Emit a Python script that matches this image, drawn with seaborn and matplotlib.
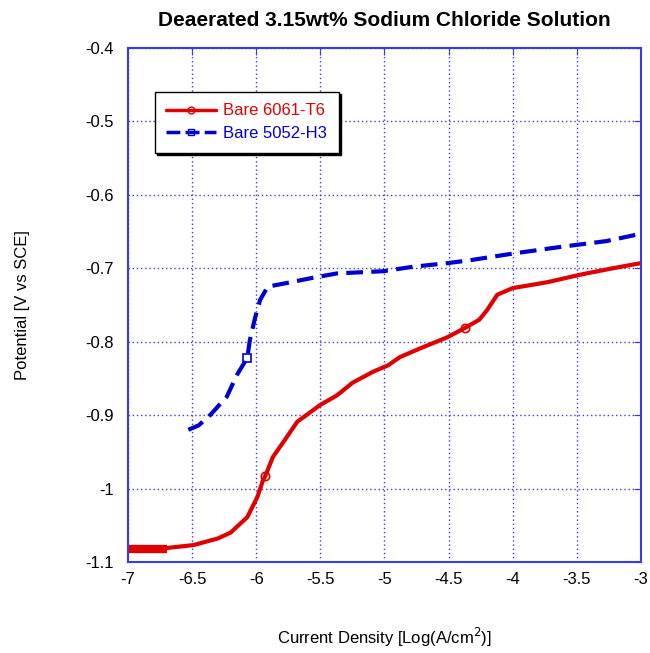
import numpy as np
import pandas as pd
import matplotlib
matplotlib.use("Agg")
import matplotlib.pyplot as plt
import seaborn as sns
from matplotlib.lines import Line2D
from matplotlib.ticker import FuncFormatter


# Data
red_x = [-6.70, -6.49, -6.30, -6.20, -6.07, -5.99, -5.95, -5.93, -5.87, -5.79,
         -5.68, -5.50, -5.37, -5.25, -5.09, -4.97, -4.88, -4.72, -4.51, -4.37,
         -4.26, -4.20, -4.12, -4.00, -3.73, -3.48, -3.22, -3.00]
red_y = [-1.081, -1.077, -1.068, -1.060, -1.039, -1.011, -0.990, -0.983, -0.957, -0.937,
         -0.909, -0.886, -0.873, -0.856, -0.841, -0.832, -0.821, -0.809, -0.794, -0.781,
         -0.770, -0.757, -0.736, -0.727, -0.719, -0.709, -0.700, -0.693]
red_flat_x = [-7.00, -6.70]
red_flat_y = [-1.083, -1.083]
red_marks = [7, 19]

blue_x = [-6.53, -6.45, -6.36, -6.23, -6.15, -6.07, -6.05, -6.01, -5.97, -5.91,
          -5.76, -5.56, -5.37, -5.01, -4.78, -4.51, -4.33, -4.00, -3.63, -3.27, -3.00]
blue_y = [-0.920, -0.914, -0.900, -0.875, -0.845, -0.822, -0.798, -0.768, -0.743, -0.725,
          -0.720, -0.713, -0.707, -0.704, -0.698, -0.693, -0.689, -0.680, -0.671, -0.663, -0.653]
blue_marks = [5]

labels = ["Bare 6061-T6", "Bare 5052-H3"]
x_ticks = [-7, -6.5, -6, -5.5, -5, -4.5, -4, -3.5, -3]
y_ticks = [-1.1, -1.0, -0.9, -0.8, -0.7, -0.6, -0.5, -0.4]

RED = "#e00000"
BLUE = "#0000d0"
GRID = "#3a3ae8"


def main():
    sns.set_style("white")
    plt.rcParams["font.family"] = ["Liberation Sans", "DejaVu Sans"]
    plt.rcParams["text.color"] = "black"
    plt.rcParams["axes.labelcolor"] = "black"
    plt.rcParams["xtick.labelcolor"] = "black"
    plt.rcParams["ytick.labelcolor"] = "black"

    fig = plt.figure(figsize=(6.5, 6.53), dpi=100)
    ax = fig.add_axes([0.197, 0.1394, 0.789, 0.7871])

    sns.lineplot(x=red_flat_x, y=red_flat_y, ax=ax, color=RED, lw=6,
                 sort=False, estimator=None, solid_capstyle="butt")
    sns.lineplot(x=red_x, y=red_y, ax=ax, color=RED, lw=3,
                 sort=False, estimator=None)
    sns.lineplot(x=blue_x, y=blue_y, ax=ax, color=BLUE, lw=3,
                 sort=False, estimator=None)
    ax.lines[-1].set_dashes([4, 2])

    # sparse open markers
    ax.plot([red_x[i] for i in red_marks], [red_y[i] for i in red_marks],
            ls="none", marker="o", ms=6, mfc="none", mec=RED, mew=1.2)
    ax.plot([blue_x[i] for i in blue_marks], [blue_y[i] for i in blue_marks],
            ls="none", marker="s", ms=6, mfc="none", mec=BLUE, mew=1.2)

    ax.set_xlim(-7, -3)
    ax.set_ylim(-1.1, -0.4)
    ax.set_xticks(x_ticks)
    ax.set_yticks(y_ticks)
    ax.xaxis.set_major_formatter(FuncFormatter(lambda v, p: f"{v:g}"))
    ax.yaxis.set_major_formatter(FuncFormatter(lambda v, p: f"{v:g}"))

    ax.grid(True, color=GRID, ls=(0, (1, 2)), lw=1)
    for s in ax.spines.values():
        s.set_color(GRID)
        s.set_linewidth(1.5)
    ax.tick_params(axis="both", direction="in", length=5, color=GRID,
                   labelsize=12, pad=10, top=True, right=True)
    ax.tick_params(axis="x", pad=7)

    ax.set_title("Deaerated 3.15wt% Sodium Chloride Solution",
                 fontsize=15, fontweight="bold", pad=16, color="black")
    ax.set_xlabel("Current Density [Log(A/cm$^2$)]", fontsize=12, labelpad=28)
    ax.set_ylabel("Potential [V vs SCE]", fontsize=12, labelpad=40)

    handles = [
        Line2D([], [], color=RED, lw=2.5, marker="o", ms=5, mfc="none", mec=RED),
        Line2D([], [], color=BLUE, lw=2.5, ls=(0, (4, 1.5)), marker="s", ms=5,
               mfc="none", mec=BLUE),
    ]
    leg = ax.legend(handles, labels, loc="upper left",
                    bbox_to_anchor=(0.052, 0.915), fontsize=12,
                    frameon=True, fancybox=False, shadow={"color": "black", "alpha": 1},
                    edgecolor="black", framealpha=1, handlelength=3.0,
                    borderpad=0.7, labelspacing=0.45, handletextpad=0.4,
                    borderaxespad=0)
    leg.get_frame().set_linewidth(1)
    for t, c in zip(leg.get_texts(), [RED, BLUE]):
        t.set_color(c)

    fig.savefig("out.png", dpi=100)


if __name__ == "__main__":
    main()
